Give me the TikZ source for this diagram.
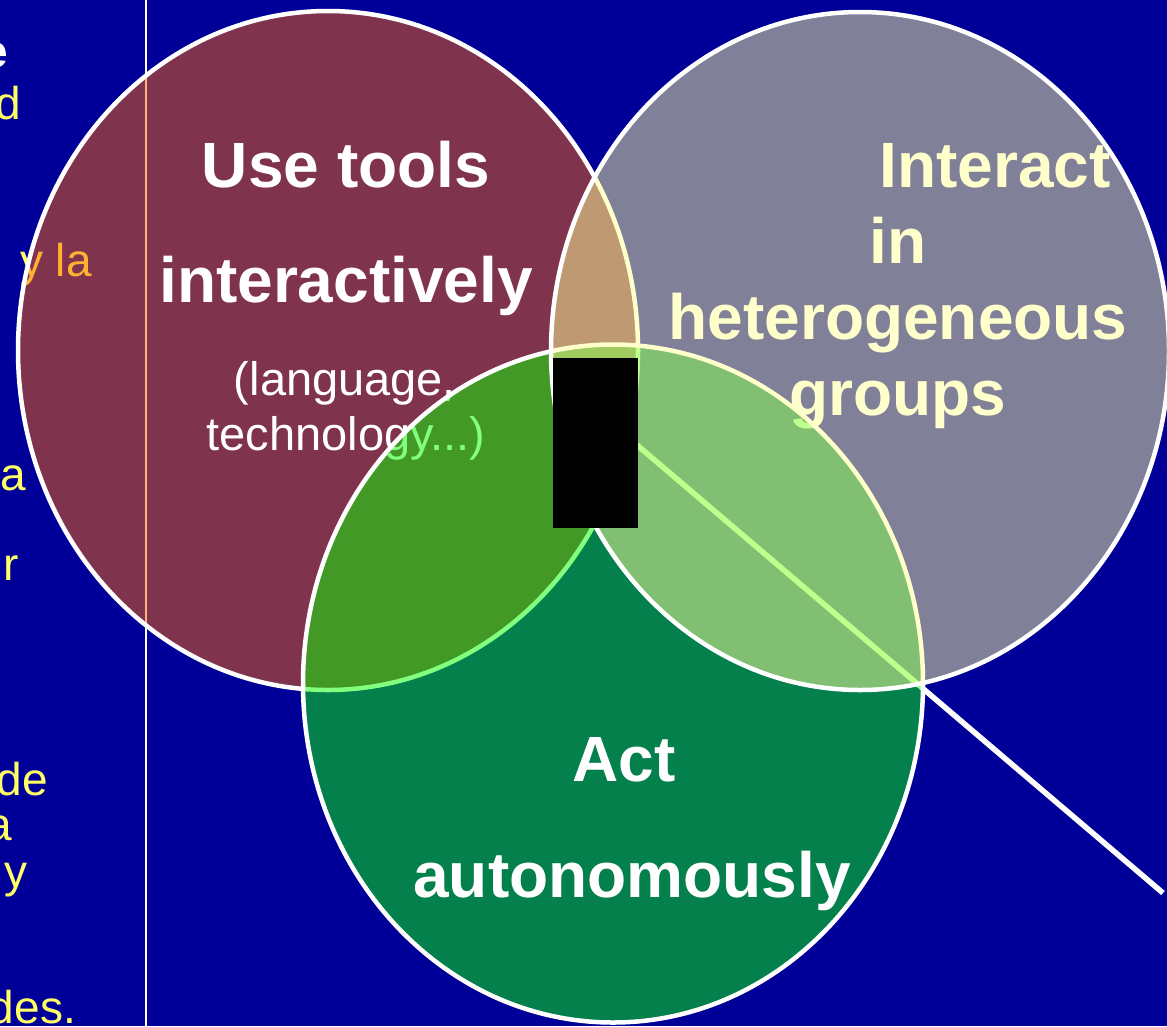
\documentclass[tikz,border=0pt]{standalone}
\usepackage{fontspec}
\setmainfont{Liberation Sans}
\definecolor{bg}{HTML}{000099}
\definecolor{redfill}{HTML}{FF6600}
\definecolor{greenfill}{HTML}{06FF00}
\definecolor{grayfill}{HTML}{FFFF99}
\definecolor{lefttext}{HTML}{FFFF66}
\begin{document}
\begin{tikzpicture}[x=1pt,y=-1pt,
  bigtxt/.style={font=\fontsize{64}{64}\selectfont\bfseries, text=white, inner sep=0pt, anchor=base},
  smalltxt/.style={font=\fontsize{47}{47}\selectfont, text=white, inner sep=0pt, anchor=base},
  sidetxt/.style={font=\fontsize{46}{46}\selectfont, text=lefttext, inner sep=0pt, anchor=base east},
  venn/.style={fill opacity=0.5, draw=white, draw opacity=1, line width=4.5pt},
  thinline/.style={draw=white, line width=1.8pt},
  pointer/.style={draw=white, line width=5.5pt}]
\useasboundingbox (0,0) rectangle (1167,1026);
\fill[bg] (0,0) rectangle (1167,1026);
\clip (0,0) rectangle (1167,1026);
% vertical divider
\coordinate (vtop) at (146,0);
\coordinate (vbot) at (146,1026);
\draw[thinline] (vtop) -- (vbot);
% clipped side text
\node[sidetxt, text=white, font=\fontsize{46}{46}\selectfont\bfseries] (s0) at (8,67) {e};
\node[sidetxt] (s1) at (21,119) {d};
\node[sidetxt] (s2) at (92,276) {y la};
\node[sidetxt] (s3) at (26,490) {a};
\node[sidetxt] (s4) at (19,580) {r};
\node[sidetxt] (s5) at (48,795) {de};
\node[sidetxt] (s6) at (12,840) {a};
\node[sidetxt] (s7) at (28,887) {y};
\node[sidetxt] (s8) at (76,1023) {des.};
% red circle
\path[venn, fill=redfill] (328,350.5) ellipse [x radius=310pt, y radius=339.5pt];
\node[bigtxt] (u1) at (346,187) {Use tools};
\node[bigtxt] (u2) at (346,302) {interactively};
\node[smalltxt] (u3) at (345,395) {(language,};
\node[smalltxt] (u4) at (346,450) {technology...)};
% gray circle text (drawn under fills)
\node[bigtxt] (g1) at (995,187) {Interact};
\node[bigtxt] (g2) at (898,263) {in};
\node[bigtxt] (g3) at (898,339) {heterogeneous};
\node[bigtxt] (g4) at (898,415) {groups};
% pointer line
\coordinate (ls) at (597,411);
\coordinate (le) at (1163,893);
\draw[pointer] (ls) -- (le);
% green circle
\path[venn, fill=greenfill] (613,683.5) ellipse [x radius=310pt, y radius=339pt];
% gray circle
\path[venn, fill=grayfill] (860,351) ellipse [x radius=309pt, y radius=339pt];
% green text
\node[bigtxt] (a1) at (624,781) {Act};
\node[bigtxt] (a2) at (632,897) {autonomously};
% black box
\node[fill=black, inner sep=0pt, minimum width=85pt, minimum height=170pt] (blk) at (595.5,443) {};
\end{tikzpicture}
\end{document}
